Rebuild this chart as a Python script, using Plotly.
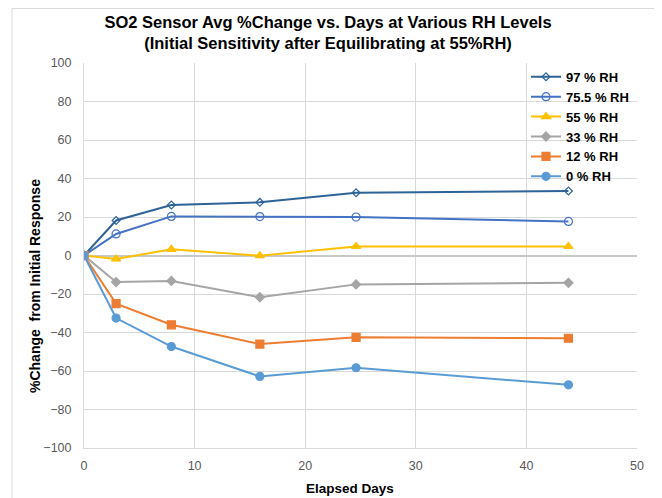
import plotly.graph_objects as go

days = [0, 2.9, 7.9, 15.9, 24.6, 43.8]
rh97 = [0, 18.2, 26.2, 27.6, 32.6, 33.5]
rh755 = [0, 11.2, 20.3, 20.2, 20.0, 17.7]
rh55 = [0, -1.8, 3.2, -0.1, 4.7, 4.7]
rh33 = [0, -13.8, -13.2, -21.7, -15.0, -14.2]
rh12 = [0, -25.0, -36.0, -46.0, -42.5, -43.0]
rh0 = [0, -32.5, -47.3, -62.8, -58.3, -67.2]

series = [
    ("97 % RH", rh97, "#2E6399", "diamond-open", 6),
    ("75.5 % RH", rh755, "#4472C4", "circle-open", 8),
    ("55 % RH", rh55, "#FFC000", "triangle-up", 8),
    ("33 % RH", rh33, "#A5A5A5", "diamond", 7),
    ("12 % RH", rh12, "#ED7D31", "square", 8),
    ("0 % RH", rh0, "#5B9BD5", "circle", 8),
]

W, H = 654, 490
L, R, T, B = 76, 25, 55, 50
PW, PH = W - L - R, H - T - B

fig = go.Figure()
for name, vals, color, sym, size in series:
    fig.add_trace(go.Scatter(
        x=days, y=vals, name=name, mode="lines+markers",
        line=dict(color=color, width=2),
        marker=dict(symbol=sym, size=size, color=color,
                    line=dict(color=color, width=1.2)),
    ))

font = "Liberation Sans, Arial, sans-serif"
fig.update_layout(
    width=W, height=H,
    margin=dict(l=L, r=R, t=T, b=B),
    paper_bgcolor="white", plot_bgcolor="white",
    font=dict(family=font, size=12.5, color="#595959"),
    title=dict(
        text="<b>SO2 Sensor Avg %Change vs. Days at Various RH Levels<br>(Initial Sensitivity after Equilibrating at 55%RH)</b>",
        x=320 / W, xanchor="center", yref="container", y=1 - 20 / H, yanchor="top",
        font=dict(family=font, size=16.5, color="#000000"),
    ),
    legend=dict(
        x=(518 - L) / PW, xanchor="left", y=1.003, yanchor="top",
        bgcolor="rgba(0,0,0,0)",
        font=dict(family=font, size=13, color="#000000", weight="bold"),
        tracegroupgap=0,
    ),
    showlegend=True,
    shapes=[
        dict(type="line", xref="paper", yref="paper",
             x0=-(L - 4) / PW, x1=-(L - 4) / PW, y0=-B / PH, y1=1 + (T - 0.5) / PH,
             line=dict(color="#D9D9D9", width=1)),
        dict(type="line", xref="paper", yref="paper",
             x0=-(L - 4) / PW, x1=1 + (R - 2) / PW, y0=1 + (T - 0.5) / PH, y1=1 + (T - 0.5) / PH,
             line=dict(color="#D9D9D9", width=1)),
        dict(type="line", xref="paper", yref="paper",
             x0=1 + (R - 2) / PW, x1=1 + (R - 2) / PW, y0=-B / PH, y1=1 + (T - 0.5) / PH,
             line=dict(color="#D9D9D9", width=1)),
    ],
    annotations=[
        dict(text="<b>Elapsed Days</b>", xref="paper", yref="paper",
             x=(342 - L) / PW, y=-(480 - (T + PH)) / PH, xanchor="center", yanchor="middle",
             showarrow=False, font=dict(family=font, size=13.5, color="#000000")),
        dict(text="<b>%Change  from Initial Response</b>", xref="paper", yref="paper",
             x=-(L - 27) / PW, y=1 - (278 - T) / PH, xanchor="center", yanchor="middle",
             textangle=-90, showarrow=False, font=dict(family=font, size=14, color="#000000")),
    ],
)
fig.update_xaxes(
    range=[0, 50], dtick=10, showgrid=True, gridcolor="#D9D9D9", gridwidth=1,
    zeroline=False, showline=True, linecolor="#D9D9D9",
    ticks="", ticklabelstandoff=6, tickfont=dict(size=12.5, color="#595959"),
)
fig.update_yaxes(
    range=[-100, 100], dtick=20, showgrid=True, gridcolor="#D9D9D9", gridwidth=1,
    zeroline=True, zerolinecolor="#C8C8C8", zerolinewidth=1.5,
    showline=True, linecolor="#D9D9D9",
    ticks="", ticklabelstandoff=9, tickfont=dict(size=12.5, color="#595959"),
)

fig.write_html("out.html")
